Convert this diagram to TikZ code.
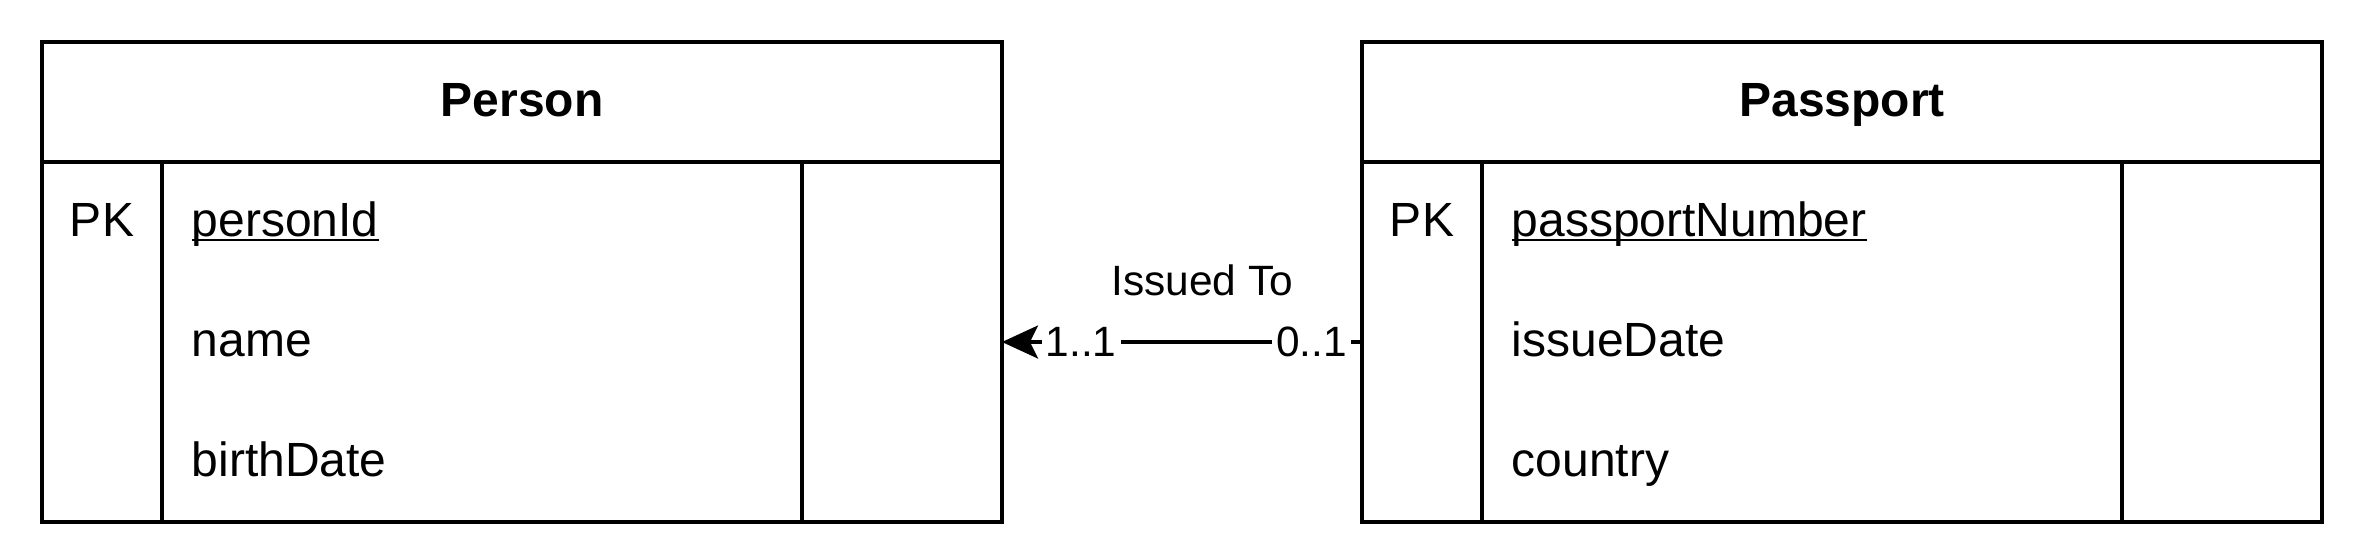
\documentclass[tikz,border=0pt]{standalone}
\usepackage{fontspec}
\setmainfont{Liberation Sans}
\usepackage{tikz}
\usetikzlibrary{positioning,arrows.meta}

\newcommand{\keyname}[1]{\setbox0\hbox{#1}\rlap{\rule[-1.3pt]{\wd0}{0.5pt}}\box0}

\begin{document}
\begin{tikzpicture}[x=0.25pt,y=-0.25pt,
  cell/.style={draw, line width=0.85pt, inner sep=0pt, outer sep=0pt, anchor=north west},
  title/.style={cell, minimum width=240pt, minimum height=30pt, font=\fontsize{12}{14}\selectfont\bfseries, text height=8.6pt, text depth=1.6pt},
  keycol/.style={cell, minimum width=30pt, minimum height=90pt},
  fieldcol/.style={cell, minimum width=160pt, minimum height=90pt},
  spare/.style={cell, minimum width=50pt, minimum height=90pt},
  entry/.style={inner sep=0pt, font=\fontsize{12}{14}\selectfont},
  card/.style={fill=white, inner xsep=1pt, inner ysep=0pt, font=\fontsize{10.6}{12}\selectfont},
  rel/.style={line width=0.85pt, -{Stealth[length=9pt, width=8.25pt, inset=2pt]}}
]
\useasboundingbox (0,0) rectangle (2368,548);

% Person
\node[title] at (42,42)(person){Person};
\node[keycol] at (person.south west)(personkey){};
\node[fieldcol, right=0pt of personkey](personfields){};
\node[spare, right=0pt of personfields](personspare){};
\node[entry, anchor=base] at (102,236)(personpk){PK};
\node[entry, anchor=base west] at (191,236)(personid){\keyname{personId}};
\node[entry, anchor=base west] at (191,356)(personname){name};
\node[entry, anchor=base west] at (191,476)(personbirth){birthDate};

% Passport
\node[title] at (1362,42)(passport){Passport};
\node[keycol] at (passport.south west)(passportkey){};
\node[fieldcol, right=0pt of passportkey](passportfields){};
\node[spare, right=0pt of passportfields](passportspare){};
\node[entry, anchor=base] at (1422,236)(passportpk){PK};
\node[entry, anchor=base west] at (1511,236)(passportnumber){\keyname{passportNumber}};
\node[entry, anchor=base west] at (1511,356)(passportissue){issueDate};
\node[entry, anchor=base west] at (1511,476)(passportcountry){country};

% relation
\draw[rel] (passportkey.west) -- node[card, pos=0.14]{0..1} node[card, pos=0.78]{1..1}
  node[pos=0.444, above=11pt, inner sep=0pt, font=\fontsize{10.6}{12}\selectfont]{Issued To} (personspare.east);
\end{tikzpicture}
\end{document}
